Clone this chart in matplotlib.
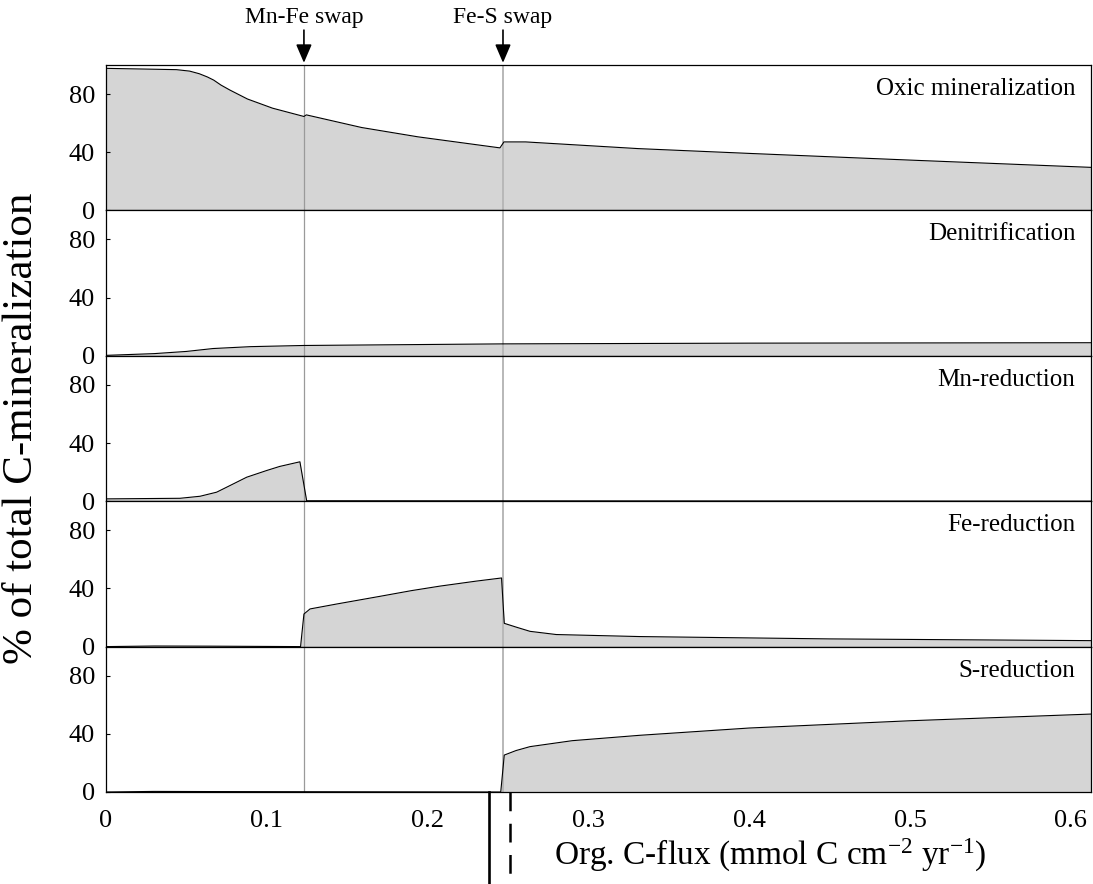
import numpy as np
import matplotlib
matplotlib.use("Agg")
import matplotlib.pyplot as plt

plt.rcParams['font.family'] = ['Liberation Serif', 'DejaVu Serif']
plt.rcParams['mathtext.default'] = 'regular'

# Organic C flux (mmol C cm-2 yr-1) and % of total C-mineralization per pathway
oxic_x = [0, 0.0438, 0.052, 0.058, 0.063, 0.067, 0.0715, 0.077, 0.088, 0.1036, 0.1231, 0.1246,
          0.159, 0.194, 0.245, 0.2475, 0.261, 0.331, 0.4, 0.5, 0.6126]
oxic_y = [97.7, 96.8, 95.8, 94.0, 91.8, 89.6, 86.2, 82.8, 76.6, 70.3, 64.6, 65.7,
          57.0, 50.6, 43.0, 47.1, 47.1, 42.5, 39.2, 34.6, 29.6]

denit_x = [0, 0.03, 0.05, 0.0666, 0.09, 0.123, 0.247, 0.4, 0.6126]
denit_y = [0.3, 1.5, 3.0, 5.0, 6.3, 7.1, 8.2, 8.7, 9.0]

mn_x = [0, 0.046, 0.0585, 0.0688, 0.075, 0.0875, 0.0999, 0.108, 0.1206, 0.1248, 0.6126]
mn_y = [1.6, 2.0, 3.4, 6.2, 9.6, 16.5, 21.1, 23.9, 27.1, 0.3, 0.0]

fe_x = [0, 0.03, 0.065, 0.121, 0.1231, 0.1269, 0.1435, 0.17, 0.19, 0.2077, 0.23, 0.246,
        0.2477, 0.2554, 0.2637, 0.28, 0.332, 0.45, 0.6126]
fe_y = [0.0, 0.4, 0.3, 0.0, 22.4, 25.9, 29.3, 34.5, 38.5, 41.6, 45.0, 47.2,
        16.0, 13.3, 10.5, 8.3, 6.9, 5.3, 4.1]

sred_x = [0, 0.03, 0.065, 0.2455, 0.2477, 0.255, 0.2637, 0.29, 0.332, 0.4, 0.5, 0.6126]
sred_y = [0.0, 0.4, 0.3, 0.0, 25.4, 28.5, 31.2, 35.3, 39.0, 44.0, 49.0, 53.6]

panels = [
    ("Oxic mineralization", oxic_x, oxic_y),
    ("Denitrification", denit_x, denit_y),
    ("Mn-reduction", mn_x, mn_y),
    ("Fe-reduction", fe_x, fe_y),
    ("S-reduction", sred_x, sred_y),
]

swap_labels = ["Mn-Fe swap", "Fe-S swap"]
swap_x = [0.1231, 0.2469]
solid_marker_x = 0.2382
dashed_marker_x = 0.2512

x_ticks = [0, 0.1, 0.2, 0.3, 0.4, 0.5, 0.6]
x_ticklabels = ["0", "0.1", "0.2", "0.3", "0.4", "0.5", "0.6"]
y_ticks = [0, 40, 80]
x_max = 0.6126

FILL = '#d5d5d5'

fig = plt.figure(figsize=(10.93, 8.84), dpi=100)

left, width = 106 / 1093, 985 / 1093
top_px, panel_px = 65, 145.4
axes = []
for i, (name, xs, ys) in enumerate(panels):
    bottom = 1 - (top_px + (i + 1) * panel_px) / 884
    ax = fig.add_axes([left, bottom, width, panel_px / 884])
    ax.fill_between(xs, 0, ys, color=FILL, lw=0, zorder=1)
    ax.plot(xs, ys, color='black', lw=0.8, zorder=3)
    # swap markers through every panel
    ax.axvline(swap_x[0], color='#9a9a9a', lw=0.9, zorder=2)
    ax.axvline(swap_x[1], color='#b8b8b8', lw=1.4, zorder=2)
    ax.set_xlim(0, x_max)
    ax.set_ylim(0, 100)
    ax.set_yticks(y_ticks)
    ax.tick_params(axis='y', direction='in', length=3, width=0.8, pad=8, labelsize=19)
    ax.set_xticks([])
    for sp in ax.spines.values():
        sp.set_linewidth(0.9)
    ax.text(0.984, 0.835, name, transform=ax.transAxes, ha='right', va='center',
            fontsize=18)
    axes.append(ax)

# shared x axis labels on the bottom panel
ax_b = axes[-1]
ax_b.set_xticks(x_ticks)
ax_b.set_xticklabels(x_ticklabels)
ax_b.tick_params(axis='x', length=0, pad=13, labelsize=19)

# regime boundaries below the axis
ax_b.plot([solid_marker_x, solid_marker_x], [0, -0.64], color='black', lw=1.9,
          transform=ax_b.get_xaxis_transform(), clip_on=False)
ax_b.plot([dashed_marker_x, dashed_marker_x], [0, -0.6], color='black', lw=1.8,
          linestyle=(0, (7.5, 5)), transform=ax_b.get_xaxis_transform(), clip_on=False)

# swap annotations above the top panel
ax_t = axes[0]
for label, xv in zip(swap_labels, swap_x):
    ax_t.annotate('', xy=(xv, 1.015), xytext=(xv, 1.24),
                  xycoords=ax_t.get_xaxis_transform(),
                  arrowprops=dict(arrowstyle='-|>,head_length=0.7,head_width=0.3',
                                  mutation_scale=16, color='black', lw=1.2,
                                  shrinkA=0, shrinkB=0))
    ax_t.text(xv, 1.33, label, transform=ax_t.get_xaxis_transform(),
              ha='center', va='center', fontsize=17)

fig.text(770 / 1093, 1 - 855 / 884,
         'Org. C-flux (mmol C cm$^{-2}$ yr$^{-1}$)',
         ha='center', va='center', fontsize=24)
fig.text(22 / 1093, 1 - 428 / 884, '% of total C-mineralization',
         rotation=90, ha='center', va='center', fontsize=31)

fig.savefig('out.png', dpi=100)
